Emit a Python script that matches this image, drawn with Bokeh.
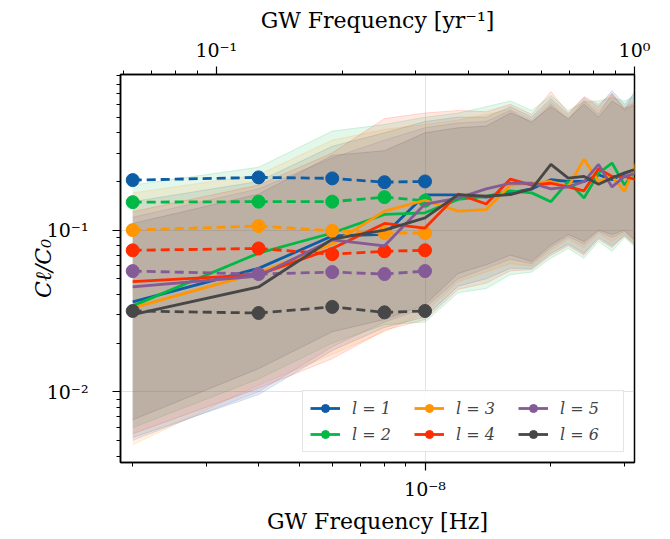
from bokeh.plotting import figure
from bokeh.models import (LogAxis, Range1d, LogScale, FixedTicker, Legend, LegendItem,
                          ColumnDataSource)
from bokeh.embed import file_html
from bokeh.resources import INLINE

SEC_PER_YR = 3.15576e7

# GW frequencies (Hz)
freq = [2.0e-9, 4.0e-9, 6.0e-9, 8.0e-9, 1.0e-8, 1.2e-8, 1.4e-8, 1.6e-8,
        1.8e-8, 2.0e-8, 2.2e-8, 2.4e-8, 2.6e-8, 2.8e-8, 3.0e-8, 3.2e-8]
freq_inj = [2.0e-9, 4.0e-9, 6.0e-9, 8.0e-9, 1.0e-8]

labels = ["l = 1", "l = 2", "l = 3", "l = 4", "l = 5", "l = 6"]
colors = ["#0C5DA5", "#00B945", "#FF9500", "#FF2C00", "#845B97", "#474747"]

# injected (dashed) values
inj_l1 = [0.204, 0.212, 0.209, 0.198, 0.200]
inj_l2 = [0.149, 0.150, 0.150, 0.160, 0.152]
inj_l3 = [0.100, 0.106, 0.099, 0.096, 0.096]
inj_l4 = [0.075, 0.077, 0.071, 0.074, 0.075]
inj_l5 = [0.0558, 0.0535, 0.055, 0.0535, 0.0558]
inj_l6 = [0.0316, 0.0307, 0.0335, 0.031, 0.0316]

# recovered means (solid)
mean_l1 = [0.036, 0.058, 0.092, 0.094, 0.165, 0.165, 0.160, 0.170, 0.180, 0.205, 0.200, 0.200, 0.220, 0.205, 0.225, 0.240]
mean_l2 = [0.034, 0.072, 0.096, 0.125, 0.128, 0.155, 0.162, 0.175, 0.170, 0.150, 0.200, 0.158, 0.225, 0.260, 0.190, 0.238]
mean_l3 = [0.033, 0.0545, 0.082, 0.131, 0.153, 0.131, 0.134, 0.190, 0.195, 0.200, 0.185, 0.275, 0.200, 0.215, 0.174, 0.260]
mean_l4 = [0.048, 0.053, 0.077, 0.110, 0.103, 0.167, 0.145, 0.207, 0.190, 0.195, 0.185, 0.175, 0.240, 0.215, 0.215, 0.205]
mean_l5 = [0.0445, 0.052, 0.087, 0.080, 0.145, 0.158, 0.180, 0.195, 0.195, 0.180, 0.185, 0.200, 0.255, 0.185, 0.215, 0.225]
mean_l6 = [0.030, 0.0445, 0.088, 0.100, 0.119, 0.166, 0.162, 0.166, 0.180, 0.255, 0.210, 0.215, 0.192, 0.210, 0.226, 0.238]

# band upper edges
hi_l1 = [0.15, 0.20, 0.33, 0.40, 0.47, 0.50, 0.50, 0.58, 0.50, 0.65, 0.52, 0.66, 0.58, 0.73, 0.60, 0.72]
hi_l2 = [0.19, 0.245, 0.41, 0.45, 0.50, 0.53, 0.58, 0.63, 0.55, 0.68, 0.55, 0.62, 0.63, 0.66, 0.63, 0.68]
hi_l3 = [0.17, 0.22, 0.36, 0.42, 0.45, 0.48, 0.52, 0.56, 0.48, 0.62, 0.50, 0.64, 0.55, 0.68, 0.58, 0.65]
hi_l4 = [0.13, 0.19, 0.30, 0.49, 0.53, 0.55, 0.54, 0.60, 0.52, 0.72, 0.53, 0.67, 0.60, 0.70, 0.57, 0.62]
hi_l5 = [0.12, 0.18, 0.28, 0.36, 0.43, 0.46, 0.47, 0.55, 0.46, 0.60, 0.48, 0.63, 0.52, 0.70, 0.55, 0.77]
hi_l6 = [0.11, 0.167, 0.29, 0.31, 0.40, 0.43, 0.44, 0.53, 0.47, 0.58, 0.49, 0.60, 0.50, 0.63, 0.56, 0.60]

# band lower edges
lo_l1 = [0.0052, 0.0096, 0.018, 0.025, 0.029, 0.045, 0.050, 0.058, 0.058, 0.072, 0.082, 0.072, 0.090, 0.080, 0.092, 0.080]
lo_l2 = [0.0060, 0.0120, 0.020, 0.026, 0.027, 0.041, 0.0435, 0.053, 0.055, 0.067, 0.077, 0.067, 0.085, 0.074, 0.090, 0.077]
lo_l3 = [0.0047, 0.0110, 0.017, 0.0235, 0.031, 0.048, 0.055, 0.062, 0.060, 0.075, 0.088, 0.078, 0.095, 0.085, 0.095, 0.082]
lo_l4 = [0.0055, 0.0105, 0.016, 0.024, 0.028, 0.043, 0.047, 0.056, 0.057, 0.070, 0.080, 0.070, 0.088, 0.078, 0.093, 0.079]
lo_l5 = [0.0050, 0.0100, 0.019, 0.027, 0.033, 0.050, 0.058, 0.066, 0.062, 0.078, 0.091, 0.082, 0.098, 0.090, 0.098, 0.084]
lo_l6 = [0.0067, 0.0139, 0.0235, 0.028, 0.0345, 0.054, 0.061, 0.070, 0.064, 0.081, 0.094, 0.085, 0.100, 0.094, 0.100, 0.085]

# axis ticks
x_major = [1e-8]
x_minor = [2e-9, 3e-9, 4e-9, 5e-9, 6e-9, 7e-9, 8e-9, 9e-9, 2e-8, 3e-8]
top_major = [0.1, 1.0]
top_minor = [0.06, 0.07, 0.08, 0.09, 0.2, 0.3, 0.4, 0.5, 0.6, 0.7, 0.8, 0.9]
y_major = [0.01, 0.1]
y_minor = [0.004, 0.005, 0.006, 0.007, 0.008, 0.009,
           0.02, 0.03, 0.04, 0.05, 0.06, 0.07, 0.08, 0.09,
           0.2, 0.3, 0.4, 0.5, 0.6, 0.7, 0.8, 0.9]

injs = [inj_l1, inj_l2, inj_l3, inj_l4, inj_l5, inj_l6]
means = [mean_l1, mean_l2, mean_l3, mean_l4, mean_l5, mean_l6]
his = [hi_l1, hi_l2, hi_l3, hi_l4, hi_l5, hi_l6]
los = [lo_l1, lo_l2, lo_l3, lo_l4, lo_l5, lo_l6]

x_lo, x_hi = 1.87e-9, 1.0 / SEC_PER_YR
y_lo, y_hi = 0.00365, 0.918

FONT = "DejaVu Serif"

p = figure(width=662, height=536, x_axis_type="log", y_axis_type="log",
           x_range=Range1d(x_lo, x_hi), y_range=Range1d(y_lo, y_hi),
           output_backend="svg", toolbar_location=None,
           min_border_left=120, min_border_right=28,
           min_border_top=74, min_border_bottom=74)

p.extra_x_ranges = {"yr": Range1d(x_lo * SEC_PER_YR, 1.0000001)}
p.extra_x_scales = {"yr": LogScale()}

top = LogAxis(x_range_name="yr")
p.add_layout(top, "above")
bottom = p.below[0]
left = p.left[0]

bottom.ticker = FixedTicker(ticks=x_major, minor_ticks=x_minor)
bottom.major_label_overrides = {1e-8: "10\u207b\u2078"}
top.ticker = FixedTicker(ticks=top_major, minor_ticks=top_minor)
top.major_label_overrides = {0.1: "10\u207b\u00b9", 1.0: "10\u2070"}
left.ticker = FixedTicker(ticks=y_major, minor_ticks=y_minor)
left.major_label_overrides = {0.01: "10\u207b\u00b2", 0.1: "10\u207b\u00b9"}

bottom.axis_label = "GW Frequency [Hz]"
top.axis_label = "GW Frequency [yr\u207b\u00b9]"
left.axis_label = "C\u2113/C\u2080"

for ax in [bottom, top, left]:
    ax.axis_label_text_font = FONT
    ax.axis_label_text_font_size = "22px"
    ax.axis_label_text_font_style = "normal"
    ax.axis_label_text_color = "black"
    ax.major_label_text_font = FONT
    ax.major_label_text_font_size = "19px"
    ax.major_label_text_color = "black"
    ax.axis_line_color = "black"
    ax.axis_line_width = 1.5
    ax.major_tick_line_color = "black"
    ax.minor_tick_line_color = "black"
    ax.major_tick_out = 8
    ax.major_tick_in = 0
    ax.minor_tick_out = 4
    ax.minor_tick_in = 0
    ax.major_tick_line_width = 1.2
    ax.minor_tick_line_width = 1
left.axis_label_text_font_style = "italic"
bottom.major_label_standoff = 7
bottom.axis_label_standoff = 6
top.major_label_standoff = 6
top.axis_label_standoff = 3
left.major_label_standoff = 24
left.axis_label_standoff = -12

p.xgrid.ticker = FixedTicker(ticks=x_major)
p.ygrid.ticker = FixedTicker(ticks=y_major)
p.xgrid.grid_line_color = "#b0b0b0"
p.xgrid.grid_line_alpha = 0.35
p.ygrid.grid_line_color = "#b0b0b0"
p.ygrid.grid_line_alpha = 0.35
p.outline_line_color = "black"
p.outline_line_width = 1.5
p.background_fill_color = "white"

# bands
for c, lo, hi in zip(colors, los, his):
    src = ColumnDataSource(dict(x=freq, lo=lo, hi=hi))
    p.varea(x="x", y1="lo", y2="hi", source=src, fill_color=c, fill_alpha=0.11)
    p.line(x="x", y="lo", source=src, line_color=c, line_alpha=0.16, line_width=1)
    p.line(x="x", y="hi", source=src, line_color=c, line_alpha=0.16, line_width=1)

items = []
for lab, c, m, inj in zip(labels, colors, means, injs):
    ms = ColumnDataSource(dict(x=freq, y=m))
    ins = ColumnDataSource(dict(x=freq_inj, y=inj))
    r_solid = p.line(x="x", y="y", source=ms, line_color=c, line_width=2.8)
    p.line(x="x", y="y", source=ins, line_color=c, line_width=2.8, line_dash="9 5")
    r_dot = p.scatter(x="x", y="y", source=ins, size=13, fill_color=c, line_color=c)
    items.append(LegendItem(label=lab, renderers=[r_solid, r_dot]))

leg = Legend(items=items, location="bottom_right", ncols=3,
             label_text_font=FONT, label_text_font_style="italic",
             label_text_font_size="16px", glyph_width=30, glyph_height=20,
             label_standoff=12, spacing=6, padding=7, margin=10,
             label_width=56,
             border_line_color="#cccccc", border_line_width=1,
             background_fill_color="white", background_fill_alpha=0.85)
p.add_layout(leg, "center")

open("out.html", "w").write(file_html(p, INLINE))
